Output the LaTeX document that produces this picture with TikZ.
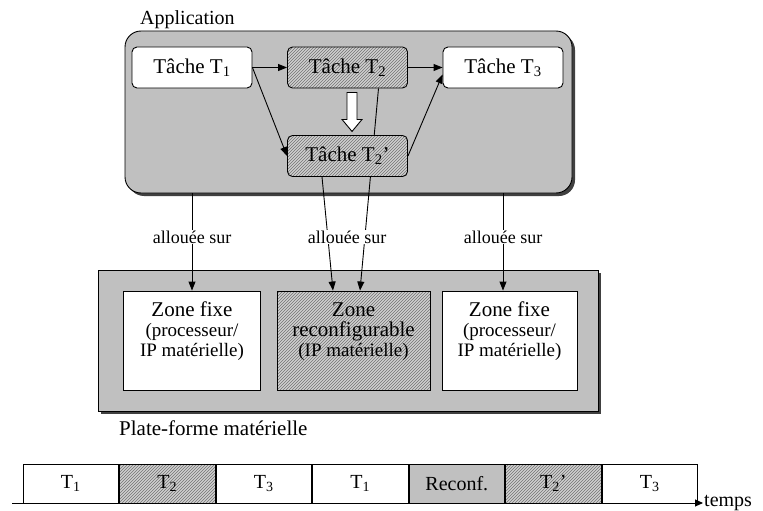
\documentclass[tikz,border=0pt]{standalone}
\usepackage{fontspec}
\setmainfont{Liberation Serif}
\usetikzlibrary{positioning,calc,arrows.meta,patterns,shadows}
\definecolor{appgray}{RGB}{192,192,192}
\definecolor{hatchgray}{RGB}{208,208,208}
\pgfdeclarelayer{back}
\pgfdeclarelayer{mid}
\pgfsetlayers{back,mid,main}
\newcommand{\uptext}[1]{\raisebox{8pt}[\height][\depth]{\begin{tabular}{@{}c@{}}#1\end{tabular}}}

\begin{document}
\begin{tikzpicture}[
    x=1pt, y=-1pt,
    font=\fontsize{20}{20}\selectfont,
    shadebox/.style={draw, fill=appgray, line width=0.9pt, drop shadow={shadow xshift=3pt, shadow yshift=-3pt, fill=black!75, opacity=1}},
    task/.style={draw, rounded corners=5pt, fill=white, line width=0.9pt, minimum width=120pt, minimum height=41pt, inner sep=0pt, font=\fontsize{21}{20}\selectfont},
    hatch/.style={preaction={fill=hatchgray}, pattern=north east lines, pattern color=black!55},
    zone/.style={draw, fill=white, line width=0.9pt, minimum height=99pt, inner sep=0pt, font=\fontsize{19}{20}\selectfont},
    slot/.style={draw, fill=white, line width=0.9pt, minimum width=95.6pt, minimum height=39pt, inner sep=0pt},
    alloc/.style={fill=white, inner sep=1pt, font=\fontsize{18}{20}\selectfont},
    arr/.style={-{Triangle[length=9pt,width=7pt]}, line width=0.9pt},
]
\useasboundingbox (0,0) rectangle (763,511);

% Background boxes
\begin{pgfonlayer}{back}
\node[shadebox, rounded corners=16pt, minimum width=447pt, minimum height=162pt] (app) at (348.5,112) {};
\node[shadebox, minimum width=500pt, minimum height=141pt] (hw) at (348,340.5) {};
\end{pgfonlayer}
\node[anchor=base west, inner sep=0pt] (applbl) at (140,25) {Application};
\node[anchor=base west, inner sep=0pt, font=\fontsize{21}{20}\selectfont] (hwlbl) at (119,435) {Plate-forme matérielle};

% Tasks
\node[task] (t1) at (192,67.5) {Tâche T\textsubscript{1}};
\node[task, hatch] (t2) at (347.5,67.5) {Tâche T\textsubscript{2}};
\node[task] (t3) at (503,67.5) {Tâche T\textsubscript{3}};
\node[task, hatch] (t2b) at (347.5,156) {Tâche T\textsubscript{2}'};

\draw[arr] (t1) -- (t2);
\draw[arr] (t1.east) -- (t2b.west);
\draw[arr] (t2) -- (t3);
\draw[arr] (t2b.east) -- ($(t3.west)+(0,7)$);
\draw[line width=0.9pt, fill=white] ($(t2.south)+(-0.5,4)$) -- ++(10,0) -- ++(0,27) -- ++(5,0) -- ++(-10,12) -- ++(-10,-12) -- ++(5,0) -- cycle;

% Zones
\node[zone, minimum width=137pt] (zfix1) at (192,340.5) {\uptext{{\fontsize{21}{20}\selectfont Zone fixe}\\(processeur/\\IP matérielle)}};
\node[zone, hatch, minimum width=153pt] (zreconf) at (353.5,340.5) {\uptext{{\fontsize{21}{20}\selectfont Zone}\\{\fontsize{21}{20}\selectfont reconfigurable}\\(IP matérielle)}};
\node[zone, minimum width=135pt] (zfix2) at (509.5,340.5) {\uptext{{\fontsize{21}{20}\selectfont Zone fixe}\\(processeur/\\IP matérielle)}};

% Allocation
\draw[arr] (t1.south |- app.south) -- node[alloc, pos=0.45] (al1) {allouée sur} (t1.south |- zfix1.north);
\draw[arr] (t3.south |- app.south) -- node[alloc, pos=0.45] (al3) {allouée sur} (t3.south |- zfix2.north);
\begin{pgfonlayer}{mid}
\draw[arr] ($(t2.south)+(31,0)$) -- ($(zreconf.north)+(6.5,0)$);
\end{pgfonlayer}
\draw[arr] ($(t2b.south)+(-25.5,0)$) -- ($(zreconf.north)+(-20.5,0)$);
\node[alloc] (al2) at (347,237) {allouée sur};

% Time line
\node[slot] (s1) at (70.8,483.5) {T\textsubscript{1}};
\node[slot, hatch, right=0pt of s1] (s2) {T\textsubscript{2}};
\node[slot, right=0pt of s2] (s3) {T\textsubscript{3}};
\node[slot, right=0pt of s3] (s4) {T\textsubscript{1}};
\node[slot, fill=appgray, right=0pt of s4] (s5) {Reconf.};
\node[slot, hatch, right=0pt of s5] (s6) {T\textsubscript{2}'};
\node[slot, right=0pt of s6] (s7) {T\textsubscript{3}};
\coordinate (t0) at (12,503);
\node[anchor=west, inner sep=1pt] (temps) at (703,503) {temps};
\draw[-{Triangle[length=8pt,width=7pt]}, line width=0.9pt] (t0) -- (temps.west);

\end{tikzpicture}
\end{document}
